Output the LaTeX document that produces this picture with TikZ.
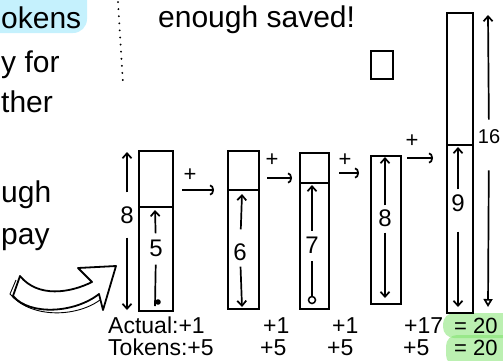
\documentclass[tikz,border=0pt]{standalone}
\usepackage{fontspec}
\setmainfont{Liberation Sans}
\usetikzlibrary{arrows.meta}
\definecolor{hlblue}{RGB}{197,241,253}
\definecolor{hlgreen}{RGB}{120,225,100}
\tikzset{
  bar/.style={draw, line width=2pt, inner sep=0pt, anchor=north west},
  vup/.style={line width=1.7pt, -{Straight Barb[length=5pt,width=9pt]}},
  hook/.style={line width=1.7pt, -{Arc Barb[length=4pt,width=11pt]}},
  num/.style={font=\fontsize{24}{24}\selectfont, inner sep=0pt},
  plus/.style={font=\fontsize{22}{22}\selectfont, inner sep=0pt},
  big/.style={font=\fontsize{30}{30}\selectfont, inner sep=0pt, anchor=base west},
  lab/.style={font=\fontsize{23}{23}\selectfont, inner sep=0pt, anchor=base west},
}
\begin{document}
\begin{tikzpicture}[x=1pt,y=-1pt]
\useasboundingbox (0,0) rectangle (503,360);
\clip (0,0) rectangle (503,360);
% highlights
\fill[hlblue, rounded corners=14pt] (-20,-20) rectangle (87,33);
\fill[hlgreen, opacity=.5, rounded corners=11pt] (443,313) rectangle (520,338);
\fill[hlgreen, opacity=.5, rounded corners=11pt] (446,335) rectangle (520,366);
% left texts
\node[big] (t1) at (1,28) {okens};
\node[big] (t2) at (1,72) {y for};
\node[big] (t3) at (1,112) {ther};
\node[big] (t4) at (1,202) {ugh};
\node[big] (t5) at (1,244) {pay};
\node[big] (t6) at (158,27) {enough saved!};
% dotted line
\coordinate (d1) at (118,2);
\coordinate (d2) at (123,84);
\draw[line width=2pt, dash pattern=on 0.1pt off 7pt, line cap=round] (d1) -- (d2);
% square
\node[bar, line width=1.8pt, minimum width=22pt, minimum height=28pt] (sq) at (370,50) {};
% hollow curved arrow
\draw[line width=1.8pt, line join=round, fill=white]
  (20,276) .. controls (38,298) and (70,293) .. (92,282)
  -- (78,268) -- (116,266) -- (103,310) -- (99,294)
  .. controls (75,313) and (30,316) .. (13,296) -- cycle;
\draw[line width=0.9pt] (16,280) -- (10,294) .. controls (30,318) and (75,318) .. (100,300);
% bars
\node[bar, minimum width=34pt, minimum height=160pt] (b1) at (138,150) {};
\node[bar, minimum width=31pt, minimum height=158pt] (b2) at (227,150) {};
\node[bar, minimum width=29pt, minimum height=156pt] (b3) at (299,152) {};
\node[bar, minimum width=30pt, minimum height=148pt] (b4) at (370,155) {};
\node[bar, minimum width=26pt, minimum height=300pt] (b5) at (446,12) {};
% dividers
\draw[line width=2pt] (b1.west |- 0,207) -- (b1.east |- 0,207);
\draw[line width=2pt] (b2.west |- 0,190) -- (b2.east |- 0,190);
\draw[line width=2pt] (b3.west |- 0,183) -- (b3.east |- 0,183);
\draw[line width=2pt] (b5.west |- 0,145) -- (b5.east |- 0,145);
% numbers
\node[num] (n8a) at (127,215) {8};
\node[num] (n5) at (156,248) {5};
\node[num] (n6) at (240,252) {6};
\node[num] (n7) at (312,245) {7};
\node[num] (n8b) at (385,218) {8};
\node[num] (n9) at (458,203) {9};
\node[num, font=\fontsize{20}{20}\selectfont] (n16) at (489,137) {16};
% arrow end coordinates
\coordinate (e8at) at (127,152); \coordinate (e8ab) at (127,310);
\coordinate (e5t) at (155,210);  \coordinate (e5b) at (155,306);
\coordinate (e6t) at (242,194);  \coordinate (e6b) at (242,307);
\coordinate (e7t) at (312,185);  \coordinate (e7b) at (312,300);
\coordinate (e8bt) at (385,157); \coordinate (e8bb) at (385,298);
\coordinate (e9t) at (458,147);  \coordinate (e9b) at (458,307);
\coordinate (e16t) at (488,15);  \coordinate (e16b) at (488,307);
% vertical arrows
\draw[vup, shorten <=14pt] (n8a) -- (e8at);
\draw[vup, shorten <=14pt] (n8a) -- (e8ab);
\draw[vup, shorten <=6pt] (n5) -- (e5t);
\draw[line width=1.7pt, shorten <=8pt] (n5) -- (e5b);
\fill (158,302) circle (2.8pt);
\draw[vup, shorten <=14pt] (n6) -- (e6t);
\draw[vup, shorten <=6pt] (n6) -- (e6b);
\draw[vup, shorten <=6pt] (n7) -- (e7t);
\draw[line width=1.7pt, shorten <=8pt, shorten >=4pt] (n7) -- (e7b);
\draw[line width=1.5pt] (312,300) circle (3.5pt);
\draw[vup, shorten <=4pt] (n8b) -- (e8bt);
\draw[vup, shorten <=6pt] (n8b) -- (e8bb);
\draw[vup, shorten <=5pt] (n9) -- (e9t);
\draw[vup, shorten <=20pt] (n9) -- (e9b);
\draw[vup, shorten <=10pt] (n16) -- (e16t);
\draw[line width=1.7pt, -{Triangle[open,length=8pt,width=9pt]}, shorten <=26pt] (n16) -- (e16b);
% plus signs and hooked arrows
\node[plus] (p1) at (190,175) {+};
\node[plus] (p2) at (272,160) {+};
\node[plus] (p3) at (345,160) {+};
\node[plus] (p4) at (412,141) {+};
\draw[hook, shorten <=8pt, shorten >=13pt] (b1.east |- 0,190) -- (b2.west |- 0,190);
\draw[hook, shorten <=7pt, shorten >=7pt] (b2.east |- 0,178) -- (b3.west |- 0,178);
\draw[hook, shorten <=9pt, shorten >=11pt] (b3.east |- 0,173) -- (b4.west |- 0,173);
\draw[hook, shorten <=5pt, shorten >=13pt] (b4.east |- 0,158) -- (b5.west |- 0,158);
% bottom labels
\node[lab] (la) at (108,333) {Actual:+1};
\node[lab] (la2) at (263,333) {+1};
\node[lab] (la3) at (332,333) {+1};
\node[lab] (la4) at (404,333) {+17};
\node[lab, font=\fontsize{22}{22}\selectfont] (la5) at (454,333) {= 20};
\node[lab] (lt) at (108,355) {Tokens:+5};
\node[lab] (lt2) at (260,355) {+5};
\node[lab] (lt3) at (327,355) {+5};
\node[lab] (lt4) at (403,355) {+5};
\node[lab, font=\fontsize{22}{22}\selectfont] (lt5) at (454,355) {= 20};
\end{tikzpicture}
\end{document}
